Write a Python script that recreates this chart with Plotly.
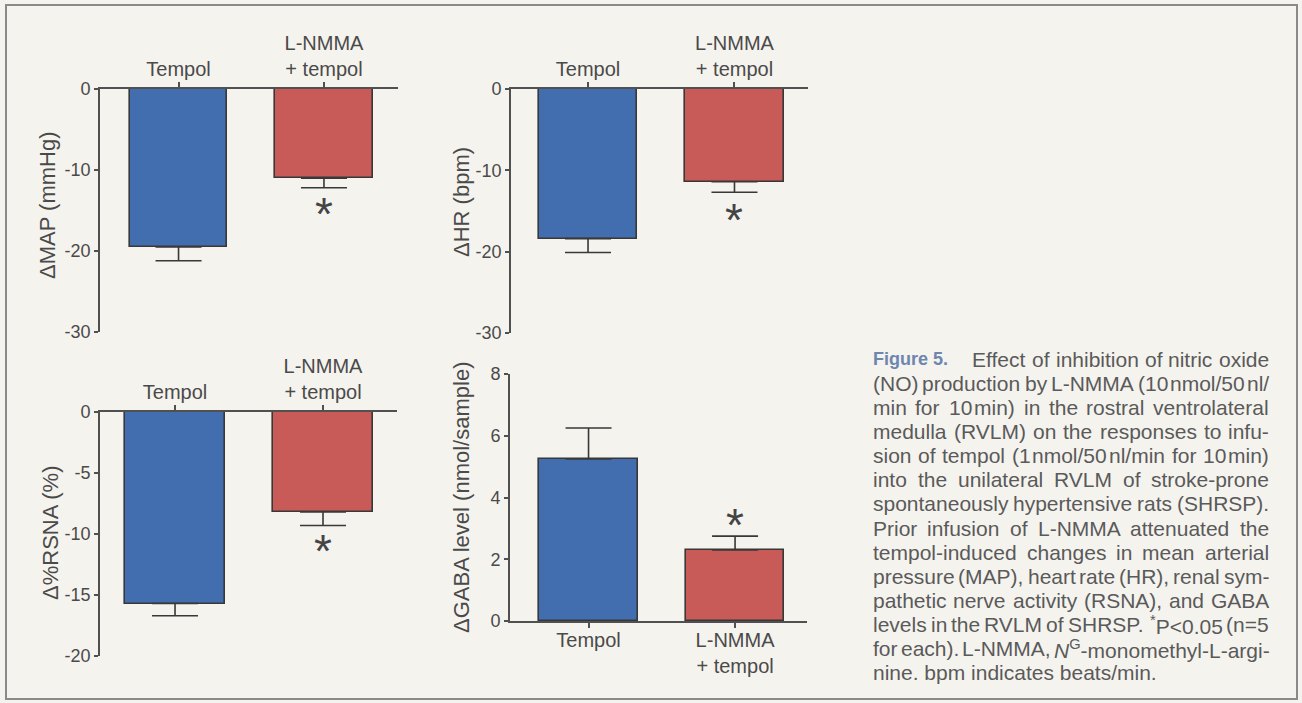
import re
import plotly.graph_objects as go

W, H = 1302, 703

categories = ["Tempol", "L-NMMA<br>+ tempol"]

map_mean = [-19.5, -11.0]
map_err = [1.7, 1.2]
hr_mean = [-18.4, -11.4]
hr_err = [1.7, 1.3]
rsna_mean = [-15.7, -8.2]
rsna_err = [1.0, 1.1]
gaba_mean = [5.25, 2.3]
gaba_err = [1.0, 0.45]

map_ticks = [0, -10, -20, -30]
hr_ticks = [0, -10, -20, -30]
rsna_ticks = [0, -5, -10, -15, -20]
gaba_ticks = [0, 2, 4, 6, 8]

caption_head = "Figure 5."
caption_lines = [
    "Effect of inhibition of nitric oxide",
    "(NO) production by L-NMMA (10~nmol/50~nl/",
    "min for 10~min) in the rostral ventrolateral",
    "medulla (RVLM) on the responses to infu-",
    "sion of tempol (1~nmol/50~nl/min for 10~min)",
    "into the unilateral RVLM of stroke-prone",
    "spontaneously hypertensive rats (SHRSP).",
    "Prior infusion of L-NMMA attenuated the",
    "tempol-induced changes in mean arterial",
    "pressure (MAP), heart rate (HR), renal sym-",
    "pathetic nerve activity (RSNA), and GABA",
    "levels in the RVLM of SHRSP. <sup>*</sup>P<0.05 (n=5",
    "for each). L-NMMA, <i>N</i><sup>G</sup>-monomethyl-L-argi-",
    "nine. bpm indicates beats/min.",
]

BLUE = "#426eb0"
RED = "#c85a58"
EDGE = "#383838"
TXT = "#4a4a4a"
FONT = "Liberation Sans, Arial, sans-serif"

# Arial / Liberation Sans advance widths (1/1000 em)
AW = {' ': 278, '(': 333, ')': 333, '*': 389, '+': 584, ',': 278, '-': 333, '.': 278, '/': 278,
      ':': 278, ';': 278, '<': 584, '=': 584, '>': 584, 'A': 667, 'B': 667, 'C': 722, 'D': 722,
      'E': 667, 'F': 611, 'G': 778, 'H': 722, 'I': 278, 'J': 500, 'K': 667, 'L': 556, 'M': 833,
      'N': 722, 'O': 778, 'P': 667, 'Q': 778, 'R': 722, 'S': 667, 'T': 611, 'U': 722, 'V': 667,
      'W': 944, 'X': 667, 'Y': 667, 'Z': 611, 'a': 556, 'b': 556, 'c': 500, 'd': 556, 'e': 556,
      'f': 278, 'g': 556, 'h': 556, 'i': 222, 'j': 222, 'k': 500, 'l': 222, 'm': 833, 'n': 556,
      'o': 556, 'p': 556, 'q': 556, 'r': 333, 's': 500, 't': 278, 'u': 556, 'v': 500, 'w': 722,
      'x': 500, 'y': 500, 'z': 500}
for d in "0123456789":
    AW[d] = 556

TAG = re.compile(r"</?(?:b|i|span)[^>]*>")


def text_width(s, size):
    total = 0.0
    for part in re.split(r"(<sup>.*?</sup>)", s):
        scale = 1.0
        if part.startswith("<sup>"):
            part = part[5:-6]
            scale = 0.7
        part = TAG.sub("", part)
        total += sum(AW.get(c, 556) for c in part) * scale
    return total / 1000.0 * size


fig = go.Figure()

panels = [
    ("", map_mean, map_err, True, map_ticks, [-30, 0], (100, 398), (89, 332), [-0.54, 1.509], "ΔMAP (mmHg)", (47, 205), -14.6),
    ("2", hr_mean, hr_err, True, hr_ticks, [-30, 0], (511, 808), (89, 333), [-0.526, 1.502], "ΔHR (bpm)", (462, 202), -15.25),
    ("3", rsna_mean, rsna_err, True, rsna_ticks, [-20, 0], (100, 397), (412, 656), [-0.507, 1.5], "Δ%RSNA (%)", (50, 533), -10.8),
    ("4", gaba_mean, gaba_err, False, gaba_ticks, [0, 8], (510, 807), (374, 621), [-0.536, 1.491], "ΔGABA level (nmol/sample)", (462, 498), 3.33),
]

annotations = []
for suf, mean, err, neg, ticks, yr, xd, yd, xr, title, tpos, stary in panels:
    xa = "x" + suf
    ya = "y" + suf
    zeros = [0] * len(err)
    if neg:
        ey = dict(type="data", symmetric=False, array=zeros, arrayminus=err,
                  color=EDGE, thickness=1.6, width=23)
    else:
        ey = dict(type="data", symmetric=False, array=err, arrayminus=zeros,
                  color=EDGE, thickness=1.6, width=23)
    fig.add_trace(go.Bar(
        x=categories, y=mean, xaxis=xa, yaxis=ya, width=0.67,
        marker=dict(color=[BLUE, RED], line=dict(color=EDGE, width=1.6)),
        error_y=ey, showlegend=False, hoverinfo="skip",
    ))
    fig.layout["xaxis" + suf] = dict(
        domain=[xd[0] / W, xd[1] / W], anchor=ya, range=xr, type="category",
        side="top" if neg else "bottom", automargin=False,
        showline=True, linecolor="#505050", linewidth=1.6,
        ticks="outside", ticklen=5, tickcolor="#505050", tickwidth=1.6,
        ticklabelstandoff=-2 if neg else -5,
        tickfont=dict(family=FONT, size=20, color=TXT),
        showgrid=False, zeroline=False, fixedrange=True,
    )
    fig.layout["yaxis" + suf] = dict(
        domain=[1 - yd[1] / H, 1 - yd[0] / H], anchor=xa, range=yr, automargin=False,
        tickvals=ticks, ticktext=[str(t) for t in ticks],
        showline=True, linecolor="#505050", linewidth=1.6,
        ticks="outside", ticklen=4, tickcolor="#505050", tickwidth=1.6,
        tickfont=dict(family=FONT, size=18, color=TXT),
        showgrid=False, zeroline=False, fixedrange=True,
    )
    annotations.append(dict(
        text=title, textangle=-90, xref="paper", yref="paper",
        x=tpos[0] / W, y=1 - tpos[1] / H, xanchor="center", yanchor="middle",
        showarrow=False, font=dict(family=FONT, size=22, color=TXT),
    ))
    annotations.append(dict(
        text="*", xref=xa, yref=ya, x=1, y=stary, xanchor="center", yanchor="middle",
        yshift=-7, showarrow=False, font=dict(family=FONT, size=46, color="#444"),
    ))

# caption, justified word by word
CS = 21
CAP_COL = "#5a5a5a"
LEFT, RIGHT = 871, 1267
Y0, DY = 359, 24.15


def cap_ann(text, x, y, anchor="left"):
    return dict(text=text, xref="paper", yref="paper", x=x / W, y=1 - y / H,
                xanchor=anchor, yanchor="middle", align="left", showarrow=False,
                font=dict(family=FONT, size=CS, color=CAP_COL))


annotations.append(dict(
    text="<b>" + caption_head + "</b>", xref="paper", yref="paper", x=LEFT / W, y=1 - Y0 / H,
    xanchor="left", yanchor="middle", showarrow=False,
    font=dict(family=FONT, size=18, color="#6d86b0")))

thin = 0.1 * CS
for i, line in enumerate(caption_lines):
    y = Y0 + i * DY
    left = 970 if i == 0 else LEFT
    if i == len(caption_lines) - 1:
        annotations.append(cap_ann(line, left, y))
        continue
    words = line.split(" ")
    widths = []
    for w in words:
        pieces = w.split("~")
        widths.append(sum(text_width(p, CS) for p in pieces) + thin * (len(pieces) - 1))
    gap = max((RIGHT - left - sum(widths)) / (len(words) - 1), 0.15 * CS)
    x = left
    for k, w in enumerate(words):
        pieces = w.split("~")
        px = x
        for p in pieces:
            annotations.append(cap_ann(p, px, y))
            px += text_width(p, CS) + thin
        x += widths[k] + gap

fig.update_layout(
    width=W, height=H, margin=dict(l=0, r=0, t=0, b=0, autoexpand=False),
    paper_bgcolor="#f5f3ee", plot_bgcolor="rgba(0,0,0,0)",
    annotations=annotations,
    shapes=[dict(type="rect", xref="paper", yref="paper",
                 x0=6 / W, x1=1297 / W, y0=1 - 699 / H, y1=1 - 5 / H,
                 line=dict(color="#8a8a8a", width=2))],
    bargap=0,
)

fig.write_html("out.html", config={"displayModeBar": False},
               post_script="document.body.style.margin='0';document.documentElement.style.overflow='hidden';")
